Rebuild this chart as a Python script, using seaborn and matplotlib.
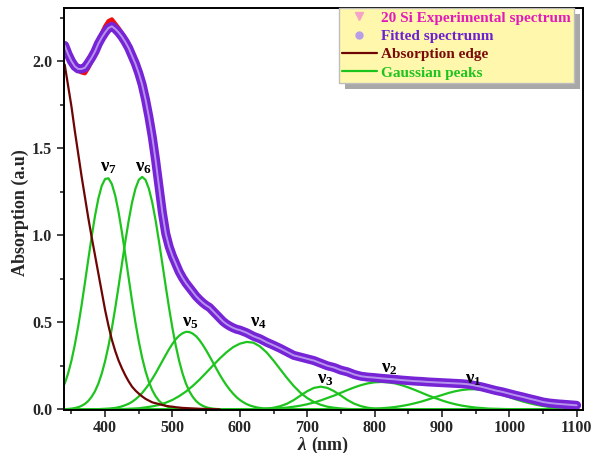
import matplotlib
matplotlib.use("Agg")
import matplotlib.pyplot as plt
import seaborn as sns
from matplotlib.lines import Line2D
from matplotlib.patches import Rectangle
from matplotlib.ticker import MultipleLocator

# wavelength grids (nm): 5 nm step up to 595, 10 nm step after
wl_fine = list(range(340, 600, 5))
wl_coarse = list(range(600, 1101, 10))

# fitted spectrum
fit_fine = [2.09, 2.04, 2.00, 1.97, 1.955, 1.955, 1.962, 1.99, 2.02, 2.055,
            2.10, 2.135, 2.165, 2.19, 2.20, 2.185, 2.165, 2.14, 2.11, 2.075,
            2.03, 1.985, 1.93, 1.865, 1.78, 1.68, 1.565, 1.43, 1.28, 1.13,
            1.01, 0.935, 0.88, 0.835, 0.79, 0.755, 0.725, 0.70, 0.675, 0.65,
            0.63, 0.612, 0.597, 0.585, 0.565, 0.545, 0.525, 0.505, 0.49, 0.478,
            0.468, 0.46]
fit_coarse = [0.455, 0.44, 0.42, 0.405, 0.385, 0.368, 0.35, 0.33, 0.31, 0.30,
              0.29, 0.28, 0.265, 0.25, 0.24, 0.225, 0.215, 0.20, 0.19, 0.185,
              0.182, 0.178, 0.175, 0.172, 0.168, 0.165, 0.162, 0.16, 0.157, 0.155,
              0.153, 0.151, 0.149, 0.147, 0.143, 0.136, 0.128, 0.118, 0.108, 0.10,
              0.09, 0.08, 0.071, 0.061, 0.052, 0.042, 0.036, 0.032, 0.029, 0.026,
              0.023]

# experimental spectrum (red, mostly hidden under the fit)
exp_fine = [2.09, 2.04, 2.00, 1.965, 1.945, 1.935, 1.93, 1.96, 2.00, 2.05,
            2.11, 2.16, 2.20, 2.23, 2.24, 2.215, 2.19, 2.16, 2.125, 2.08,
            2.04, 1.995, 1.945, 1.875, 1.79, 1.69, 1.575, 1.44, 1.29, 1.14,
            1.02, 0.945, 0.89, 0.845, 0.80, 0.765, 0.735, 0.71, 0.685, 0.66,
            0.64, 0.62, 0.603, 0.59, 0.57, 0.548, 0.528, 0.508, 0.493, 0.48,
            0.47, 0.462]
exp_coarse = [0.457, 0.442, 0.42, 0.405, 0.385, 0.368, 0.35, 0.33, 0.31, 0.30,
              0.29, 0.28, 0.265, 0.25, 0.24, 0.225, 0.215, 0.205, 0.20, 0.188,
              0.182, 0.178, 0.175, 0.172, 0.168, 0.165, 0.162, 0.16, 0.157, 0.155,
              0.153, 0.151, 0.149, 0.147, 0.143, 0.136, 0.128, 0.118, 0.108, 0.10,
              0.09, 0.08, 0.071, 0.061, 0.052, 0.042, 0.036, 0.032, 0.029, 0.026,
              0.023]

# absorption edge, 5 nm step from 340 nm
edge_start, edge_step = 340, 5
edge = [1.98, 1.86, 1.74, 1.60, 1.47, 1.34, 1.22, 1.10, 0.99, 0.885,
        0.78, 0.675, 0.57, 0.48, 0.40, 0.335, 0.28, 0.235, 0.195, 0.16,
        0.13, 0.108, 0.09, 0.074, 0.06, 0.05, 0.04, 0.035, 0.03, 0.025,
        0.02, 0.017, 0.015, 0.012, 0.01, 0.008, 0.007, 0.006, 0.005, 0.004,
        0.003, 0.0025, 0.002, 0.0015, 0.001, 0.0005, 0.0]

# gaussian peaks: first wavelength, step and values
nu7_start, nu7_step = 340, 5
nu7 = [0.147, 0.205, 0.279, 0.370, 0.476, 0.596, 0.726, 0.860, 0.991, 1.111,
       1.211, 1.284, 1.323, 1.327, 1.294, 1.228, 1.133, 1.016, 0.887, 0.753,
       0.622, 0.499, 0.390, 0.296, 0.219, 0.157, 0.110, 0.075, 0.049, 0.032,
       0.020, 0.012, 0.007, 0.004, 0.002, 0.001, 0.0]
nu6_start, nu6_step = 340, 5
nu6 = [0.001, 0.002, 0.004, 0.007, 0.012, 0.020, 0.031, 0.048, 0.072, 0.104,
       0.148, 0.205, 0.277, 0.364, 0.465, 0.581, 0.706, 0.836, 0.964, 1.084,
       1.188, 1.267, 1.318, 1.335, 1.318, 1.267, 1.188, 1.084, 0.964, 0.836,
       0.706, 0.581, 0.465, 0.364, 0.277, 0.205, 0.148, 0.104, 0.072, 0.048,
       0.031, 0.020, 0.012, 0.007, 0.004, 0.002, 0.001, 0.0]
nu5_start, nu5_step = 390, 5
nu5 = [0.001, 0.002, 0.003, 0.004, 0.006, 0.008, 0.012, 0.017, 0.024, 0.032,
       0.043, 0.057, 0.074, 0.094, 0.118, 0.144, 0.175, 0.207, 0.242, 0.277,
       0.312, 0.346, 0.376, 0.403, 0.423, 0.437, 0.445, 0.444, 0.435, 0.420,
       0.398, 0.370, 0.339, 0.305, 0.270, 0.235, 0.200, 0.168, 0.139, 0.113,
       0.090, 0.070, 0.054, 0.041, 0.030, 0.022, 0.016, 0.011, 0.008, 0.005,
       0.004, 0.003, 0.002, 0.001, 0.0]
nu4_start, nu4_step = 430, 10
nu4 = [0.002, 0.004, 0.006, 0.011, 0.017, 0.025, 0.038, 0.054, 0.076, 0.102,
       0.134, 0.170, 0.210, 0.251, 0.291, 0.327, 0.357, 0.377, 0.387, 0.383,
       0.361, 0.326, 0.280, 0.230, 0.180, 0.134, 0.095, 0.065, 0.042, 0.026,
       0.015, 0.009, 0.005, 0.002, 0.001, 0.0]
nu3_start, nu3_step = 620, 10
nu3 = [0.0, 0.001, 0.004, 0.009, 0.018, 0.032, 0.053, 0.079, 0.104, 0.123,
       0.130, 0.123, 0.104, 0.079, 0.053, 0.032, 0.018, 0.009, 0.004, 0.002,
       0.001, 0.0]
nu2_start, nu2_step = 620, 10
nu2 = [0.001, 0.002, 0.003, 0.004, 0.007, 0.010, 0.015, 0.021, 0.029, 0.039,
       0.051, 0.065, 0.079, 0.095, 0.111, 0.126, 0.139, 0.149, 0.155, 0.157,
       0.155, 0.149, 0.139, 0.126, 0.111, 0.095, 0.079, 0.065, 0.051, 0.039,
       0.029, 0.021, 0.015, 0.010, 0.007, 0.004, 0.003, 0.002, 0.001, 0.0]
nu1_start, nu1_step = 770, 10
nu1 = [0.0, 0.001, 0.002, 0.004, 0.006, 0.009, 0.013, 0.019, 0.026, 0.035,
       0.045, 0.057, 0.070, 0.082, 0.094, 0.104, 0.111, 0.115, 0.115, 0.111,
       0.104, 0.094, 0.082, 0.070, 0.057, 0.045, 0.035, 0.026, 0.019, 0.013,
       0.009, 0.006, 0.004, 0.002]

# peak labels: position (nm, a.u.)
peak_names = ["7", "6", "5", "4", "3", "2", "1"]
label_x = [405, 457, 527, 628, 727, 822, 947]
label_y = [1.34, 1.34, 0.45, 0.45, 0.12, 0.185, 0.12]

legend_labels = ["20 Si Experimental spectrum", "Fitted spectrunm",
                 "Absorption edge", "Gaussian peaks"]


def full_series(start, step, vals):
    # pad with the baseline (0) so the curve runs over 340-1100 nm
    xs = list(range(start, start + step * len(vals), step))
    ys = list(vals)
    if xs[0] > 340:
        xs = [340] + xs
        ys = [0.0] + ys
    if xs[-1] < 1100:
        xs = xs + [1100]
        ys = ys + [0.0]
    return xs, ys


sns.set_style("ticks")
plt.rcParams["font.family"] = ["Liberation Serif", "DejaVu Serif"]
plt.rcParams["font.weight"] = "bold"
plt.rcParams["mathtext.fontset"] = "stix"

fig = plt.figure(figsize=(6, 4.53), dpi=100)
ax = fig.add_axes([0.1067, 0.0949, 0.865, 0.8874])

green = "#1ec41e"
maroon = "#6e0505"
purple = "#7624d6"

# gaussian peaks
for start, step, vals in [(nu7_start, nu7_step, nu7), (nu6_start, nu6_step, nu6),
                          (nu5_start, nu5_step, nu5), (nu4_start, nu4_step, nu4),
                          (nu3_start, nu3_step, nu3), (nu2_start, nu2_step, nu2),
                          (nu1_start, nu1_step, nu1)]:
    xs, ys = full_series(start, step, vals)
    sns.lineplot(x=xs, y=ys, ax=ax, color=green, linewidth=1.6, sort=False)

# absorption edge
xs, ys = full_series(edge_start, edge_step, edge)
sns.lineplot(x=xs[:-1], y=ys[:-1], ax=ax, color=maroon, linewidth=1.6, sort=False)

# experimental + fit
wl = wl_fine + wl_coarse
sns.lineplot(x=wl, y=exp_fine + exp_coarse, ax=ax, color="#f01010", linewidth=3.0)
sns.lineplot(x=wl, y=fit_fine + fit_coarse, ax=ax, color=purple, linewidth=6.5)
sns.lineplot(x=wl, y=fit_fine + fit_coarse, ax=ax, color="#c7aef3",
             linewidth=1.4, alpha=0.8)

for name, lx, ly in zip(peak_names, label_x, label_y):
    ax.text(lx, ly, r"$\mathregular{\nu_%s}$" % name, ha="center", va="bottom",
            fontsize=13.5, color="black")

ax.set_xlim(339, 1109.5)
ax.set_ylim(-0.004, 2.305)
ax.xaxis.set_major_locator(MultipleLocator(100))
ax.xaxis.set_minor_locator(MultipleLocator(50))
ax.yaxis.set_major_locator(MultipleLocator(0.5))
ax.yaxis.set_minor_locator(MultipleLocator(0.25))
ax.tick_params(which="major", direction="out", length=5, width=1.2,
               labelsize=11.5)
ax.tick_params(axis="x", which="major", pad=2)
ax.tick_params(which="minor", direction="out", length=3, width=1.2)
for lab in ax.get_xticklabels() + ax.get_yticklabels():
    lab.set_fontweight("bold")
for sp in ax.spines.values():
    sp.set_visible(True)
    sp.set_linewidth(1.4)
    sp.set_color("black")

ax.set_ylabel("Absorption (a.u)", fontsize=13, fontweight="bold")
ax.yaxis.set_label_coords(-0.067, 0.49)
ax.set_xlabel("")
fig.text(0.503, 0.007, "λ", fontsize=14, fontweight="bold", style="italic",
         ha="center", va="baseline")
fig.text(0.518, 0.007, "(nm)", fontsize=13, fontweight="bold",
         ha="left", va="baseline")

handles = [
    Line2D([], [], linestyle="none", marker="v", markersize=6,
           markerfacecolor="#f5a3c6", markeredgecolor="#f5a3c6"),
    Line2D([], [], linestyle="none", marker="o", markersize=5,
           markerfacecolor="#b89ee8", markeredgecolor="#b89ee8"),
    Line2D([], [], color=maroon, linewidth=1.6),
    Line2D([], [], color=green, linewidth=1.6),
]
leg = ax.legend(handles, legend_labels, loc="upper right",
                bbox_to_anchor=(0.983, 1.0), borderaxespad=0,
                prop={"size": 11, "weight": "bold"},
                labelcolor=["#e21cb8", "#6d1fd2", "#7a0a0a", "#1ec41e"],
                frameon=True, fancybox=False, framealpha=1,
                facecolor="#fff8ac", edgecolor="#bdbdbd",
                handlelength=2.3, handletextpad=0.3, labelspacing=0.3,
                borderpad=0.2)
leg.set_zorder(6)

fig.canvas.draw()
bb = leg.get_window_extent()
shadow = Rectangle((bb.x0 + 6, bb.y0 - 6), bb.width, bb.height,
                   transform=None, facecolor="#a8a8a8", edgecolor="none",
                   zorder=5, clip_on=False)
ax.add_patch(shadow)

fig.savefig("out.png", dpi=100)
